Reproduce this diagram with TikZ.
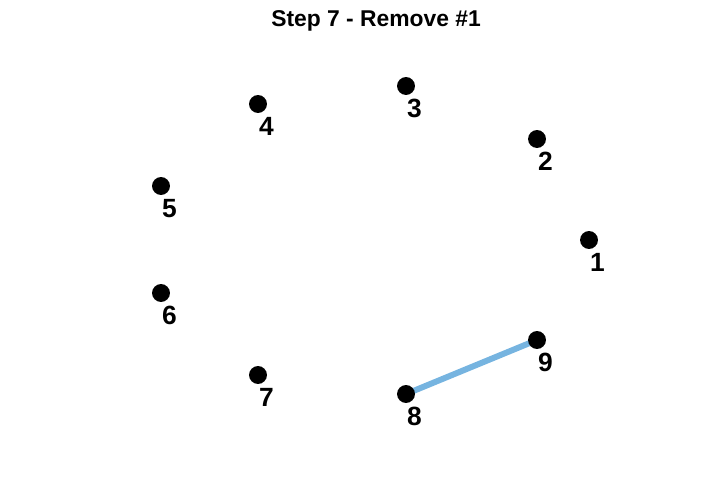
\documentclass[tikz,border=0pt]{standalone}
\usepackage{fontspec}
\setmainfont{Liberation Sans}
\usetikzlibrary{positioning,calc}
\definecolor{link}{HTML}{76B4E0}
\tikzset{pt/.style={circle,fill=black,inner sep=0pt,minimum size=10.2pt},
         num/.style={font=\fontsize{15}{15}\selectfont\bfseries,inner sep=0pt}}

\begin{document}
\begin{tikzpicture}[x=0.02cm,y=-0.02cm]
  \useasboundingbox (0,0) rectangle (726,499);
  \node[font=\fontsize{13}{13}\selectfont\bfseries] (title) at (376,21) {Step 7 - Remove \#1};
  \foreach \n/\px/\py in {1/589/240,2/537/139,3/406/86,4/258/104,5/161/186,
                          6/161/293,7/258/375,8/406/394,9/537/340}{
    \coordinate (c\n) at (\px,\py);
  }
  \draw[link,line width=3.4pt] (c8) -- (c9);
  \foreach \n in {1,...,9}{
    \node[pt] (p\n) at (c\n) {};
    \node[num] (l\n) at ($(c\n)+(8.5,22.5)$) {\n};
  }
\end{tikzpicture}
\end{document}
